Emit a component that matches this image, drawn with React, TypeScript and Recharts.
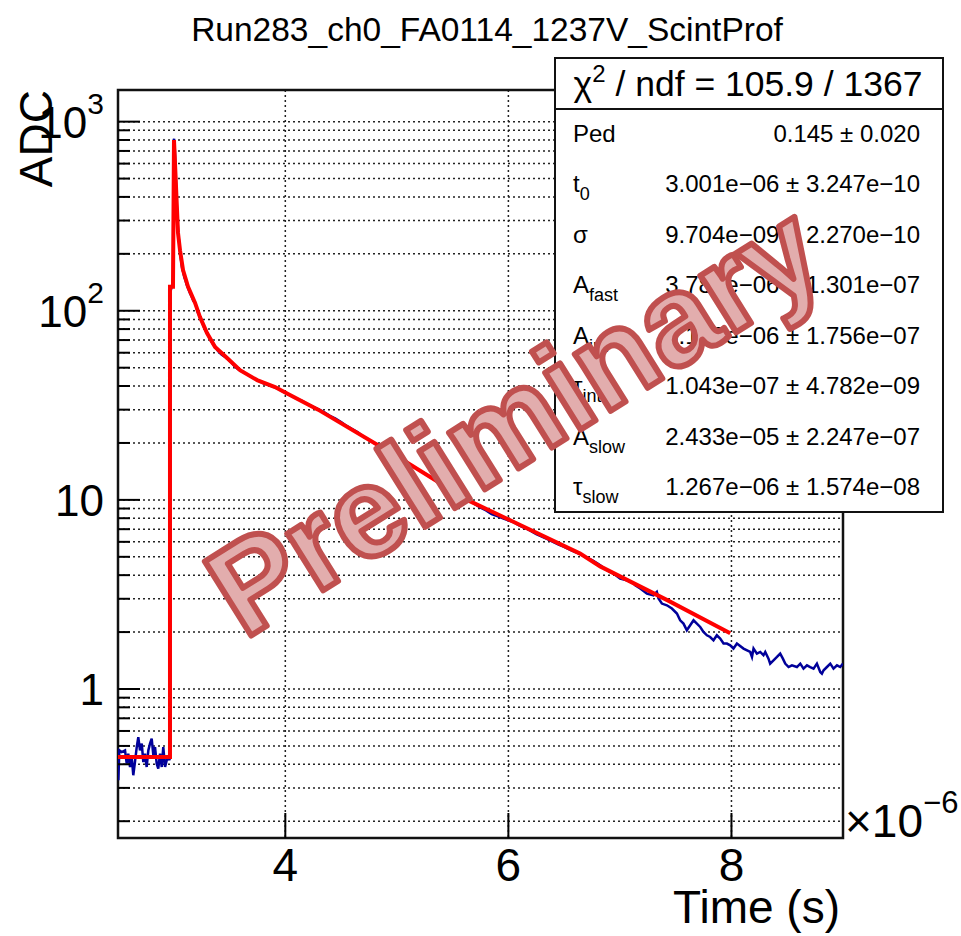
import React from "react";
import { LineChart, Line, XAxis, YAxis, CartesianGrid, ReferenceArea } from "recharts";

// Time values in units of 1e-6 s, ADC values
const histTime = [
  2.503, 2.512, 2.533, 2.563, 2.578, 2.592, 2.608, 2.623, 2.637, 2.652, 2.668, 2.682, 2.697, 2.713, 2.727,
  2.742, 2.757, 2.772, 2.787, 2.802, 2.817, 2.832, 2.847, 2.861, 2.877, 2.892, 2.906, 2.922, 2.937, 2.951,
  2.962, 2.967, 2.968, 2.985, 2.994, 2.997, 3.003, 3.010, 3.016, 3.022, 3.028, 3.034, 3.040, 3.047, 3.053,
  3.060, 3.068, 3.075, 3.085, 3.095, 3.105, 3.115, 3.130, 3.145, 3.160, 3.175, 3.190, 3.200, 3.215, 3.230,
  3.250, 3.270, 3.290, 3.310, 3.330, 3.350, 3.370, 3.390, 3.410, 3.430, 3.460, 3.490, 3.520, 3.550, 3.580,
  3.620, 3.660, 3.700, 3.750, 3.800, 3.850, 3.900, 3.950, 4.000, 4.050, 4.100, 4.150, 4.200, 4.250, 4.300,
  4.350, 4.400, 4.450, 4.500, 4.550, 4.600, 4.650, 4.700, 4.750, 4.800, 4.850, 4.900, 4.950, 5.000, 5.050,
  5.100, 5.150, 5.200, 5.250, 5.300, 5.350, 5.400, 5.450, 5.500, 5.550, 5.600, 5.650, 5.700, 5.750, 5.800,
  5.850, 5.900, 5.950, 6.000, 6.050, 6.100, 6.150, 6.200, 6.250, 6.300, 6.350, 6.400, 6.450, 6.500, 6.550,
  6.600, 6.650, 6.700, 6.750, 6.800,
  6.823, 6.883, 6.942, 7.002, 7.062, 7.122, 7.137, 7.182, 7.242, 7.301, 7.331, 7.346, 7.376, 7.421, 7.466,
  7.511, 7.540, 7.570, 7.600, 7.630, 7.660, 7.690, 7.720, 7.749, 7.780, 7.809, 7.839, 7.869, 7.899, 7.929,
  7.959, 7.989, 8.018, 8.049, 8.108, 8.168, 8.184, 8.198, 8.228, 8.258, 8.287, 8.303, 8.332, 8.347, 8.377,
  8.408, 8.437, 8.461, 8.482, 8.512, 8.542, 8.587, 8.617, 8.646, 8.677, 8.706, 8.736, 8.766, 8.796, 8.811,
  8.826, 8.856, 8.886, 8.915, 8.946, 8.975, 9.0,
];
const histAdc = [
  0.329, 0.474, 0.464, 0.474, 0.403, 0.455, 0.387, 0.437, 0.35, 0.411, 0.493, 0.557, 0.474, 0.514, 0.411,
  0.455, 0.387, 0.474, 0.514, 0.546, 0.446, 0.493, 0.403, 0.379, 0.455, 0.387, 0.493, 0.387, 0.42, 0.437,
  0.42, 0.5, 125, 136, 150, 790, 810, 700, 560, 440, 350, 300, 255, 235, 215,
  195, 180, 168, 160, 150, 145, 138, 131, 124, 119, 113, 111, 106, 98, 94,
  88, 82, 78, 74, 70, 67, 65, 62, 60, 58.5, 57, 55, 53, 50.5, 49,
  47.5, 46, 44.5, 43, 41.5, 40.5, 39.5, 38.3, 36.8, 35.6, 34.3, 33.4, 32.1, 31, 30.1,
  29, 27.8, 26.9, 25.8, 24.6, 23.7, 22.8, 21.6, 20.8, 19.9, 19.2, 18.3, 17.6, 16.9, 16.4,
  15.6, 15.0, 14.3, 13.8, 13.2, 12.7, 12.0, 11.6, 11.1, 10.6, 10.2, 9.9, 9.5, 9.1, 8.8,
  8.4, 8.2, 8.0, 7.8, 7.6, 7.3, 7.1, 6.85, 6.6, 6.4, 6.2, 6.0, 5.8, 5.65, 5.45,
  5.3, 5.15, 4.95, 4.8, 4.6,
  4.513, 4.246, 4.079, 3.838, 3.759, 3.611, 3.537, 3.398, 3.198, 3.132, 3.261, 3.008, 2.83, 2.772, 2.663,
  2.506, 2.309, 2.218, 2.045, 2.173, 2.309, 2.218, 2.128, 2.003, 1.923, 1.884, 1.81, 1.923, 1.848, 1.739,
  1.739, 1.702, 1.636, 1.739, 1.636, 1.57, 1.477, 1.636, 1.539, 1.57, 1.508, 1.57, 1.448, 1.362, 1.418,
  1.477, 1.539, 1.448, 1.362, 1.307, 1.335, 1.307, 1.362, 1.282, 1.335, 1.307, 1.282, 1.362, 1.23, 1.206,
  1.256, 1.307, 1.362, 1.282, 1.335, 1.307, 1.362,
];

const fitTime = [
  2.5, 2.966, 2.966, 2.993, 3.002, 3.038, 3.056, 3.083, 3.128, 3.191, 3.235, 3.298, 3.37, 3.478, 3.594,
  3.747, 3.908, 4.016, 4.294, 5.029, 5.63, 6.016, 6.643, 6.823, 7.424, 7.989,
];
const fitAdc = [
  0.437, 0.437, 134, 134, 800, 258, 209, 164, 134, 110, 92.6, 76.2, 64.3, 56.2, 48.5,
  43.0, 39.5, 36.5, 30.0, 16.6, 10.0, 7.8, 5.2, 4.45, 2.95, 1.97,
];

const xTicks = [4, 6, 8];
const yTicks = [
  0.2, 0.3, 0.4, 0.5, 0.6, 0.7, 0.8, 0.9, 1, 2, 3, 4, 5, 6, 7, 8, 9, 10, 20, 30, 40, 50, 60, 70, 80, 90,
  100, 200, 300, 400, 500, 600, 700, 800, 900, 1000,
];
const yLabels: Record<number, [string, string]> = { 1: ["1", ""], 10: ["10", ""], 100: ["10", "2"], 1000: ["10", "3"] };
const xDomain = [2.5, 9.0];
const yDomain = [0.163, 1470];

const title = "Run283_ch0_FA0114_1237V_ScintProf";
const statHeader = ["χ", "2", " / ndf = 105.9 / 1367"];
const statNames: [string, string][] = [
  ["Ped", ""], ["t", "0"], ["σ", ""], ["A", "fast"], ["A", "int"], ["τ", "int"], ["A", "slow"], ["τ", "slow"],
];
const statValues = [
  "0.145 ± 0.020",
  "3.001e−06 ± 3.247e−10",
  "9.704e−09 ± 2.270e−10",
  "3.783e−06 ± 1.301e−07",
  "6.188e−06 ± 1.756e−07",
  "1.043e−07 ± 4.782e−09",
  "2.433e−05 ± 2.247e−07",
  "1.267e−06 ± 1.574e−08",
];

const histData = histTime.map((t, i) => ({ t, v: histAdc[i] }));
const fitData = fitTime.map((t, i) => ({ t, v: fitAdc[i] }));

const FONT = "'Liberation Sans', Arial, Helvetica, sans-serif";

const XTick = (props: any) => {
  const { x, y, payload } = props;
  return (
    <g>
      <line x1={x} x2={x} y1={y} y2={y - 25} stroke="#000" strokeWidth={2} />
      <text x={x} y={y + 43} textAnchor="middle" fontSize={46} fontFamily={FONT} fill="#000">
        {payload.value}
      </text>
    </g>
  );
};

const YTick = (props: any) => {
  const { x, y, payload } = props;
  const v = payload.value;
  const lab = yLabels[v];
  const major = !!lab;
  return (
    <g>
      <line x1={x} x2={x + (major ? 22 : 12)} y1={y} y2={y} stroke="#000" strokeWidth={2} />
      {lab && (
        <text x={x - 14} y={y + 16} textAnchor="end" fontSize={44} fontFamily={FONT} fill="#000">
          {lab[0]}
          {lab[1] && (
            <tspan fontSize={30} dy={-24}>
              {lab[1]}
            </tspan>
          )}
        </text>
      )}
    </g>
  );
};

export default function App() {
  return (
    <div style={{ position: "absolute", left: 0, top: 0, width: 961, height: 936, background: "#fff" }}>
      <LineChart width={961} height={936} margin={{ top: 90, right: 118, bottom: 0, left: 0 }}>
        <CartesianGrid stroke="#222" strokeDasharray="2 3" strokeWidth={1.5} />
        <XAxis
          dataKey="t"
          type="number"
          domain={xDomain}
          ticks={xTicks}
          interval={0}
          allowDataOverflow
          height={98}
          axisLine={false}
          tickLine={false}
          tickSize={0}
          tickMargin={0}
          tick={<XTick />}
        />
        <YAxis
          dataKey="v"
          scale="log"
          domain={yDomain}
          ticks={yTicks}
          interval={0}
          allowDataOverflow
          width={118}
          axisLine={false}
          tickLine={false}
          tickSize={0}
          tickMargin={0}
          tick={<YTick />}
        />
        <Line data={histData} dataKey="v" stroke="#00009a" strokeWidth={2.5} dot={false} type="linear" isAnimationActive={false} />
        <Line data={fitData} dataKey="v" stroke="#ff0000" strokeWidth={4} dot={false} type="linear" isAnimationActive={false} />
        <ReferenceArea x1={xDomain[0]} x2={xDomain[1]} y1={yDomain[0]} y2={yDomain[1]} fill="none" stroke="#111" strokeWidth={2.5} ifOverflow="visible" />
      </LineChart>
      <svg width={961} height={936} style={{ position: "absolute", left: 0, top: 0, pointerEvents: "none" }}>
        <text x={487} y={41} textAnchor="middle" fontSize={33.5} fontFamily={FONT} fill="#000">
          {title}
        </text>
        <text transform="translate(52,90) rotate(-90)" textAnchor="end" fontSize={46} fontFamily={FONT} fill="#000">
          ADC
        </text>
        <text x={840} y={923} textAnchor="end" fontSize={46} fontFamily={FONT} fill="#000">
          Time (s)
        </text>
        <text x={845} y={837} fontSize={46} fontFamily={FONT} fill="#000">
          ×10
          <tspan fontSize={31} dy={-24}>−6</tspan>
        </text>
        <rect x={555} y={58} width={388} height={454} fill="#fff" stroke="#111" strokeWidth={2} />
        <line x1={555} x2={943} y1={109} y2={109} stroke="#111" strokeWidth={2} />
        <text x={748} y={96} textAnchor="middle" fontSize={35.5} fontFamily={FONT} fill="#000">
          {statHeader[0]}
          <tspan fontSize={24} dy={-14}>{statHeader[1]}</tspan>
          <tspan dy={14}>{statHeader[2]}</tspan>
        </text>
        {statNames.map((n, i) => (
          <text key={i} x={573} y={141.5 + i * 50.5} fontSize={24} fontFamily={FONT} fill="#000">
            {n[0]}
            {n[1] && (
              <tspan fontSize={18} dy={8}>
                {n[1]}
              </tspan>
            )}
          </text>
        ))}
        {statValues.map((s, i) => (
          <text key={i} x={920} y={141.5 + i * 50.5} textAnchor="end" fontSize={24} fontFamily={FONT} fill="#000">
            {s}
          </text>
        ))}
        <text
          x={0}
          y={0}
          transform="translate(244,640) rotate(-32)"
          fontSize={127}
          fontWeight="bold"
          fontFamily={FONT}
          fill="#e2adad"
          stroke="#c0504f"
          strokeWidth={6}
          strokeLinejoin="round"
        >
          Preliminary
        </text>
      </svg>
    </div>
  );
}
